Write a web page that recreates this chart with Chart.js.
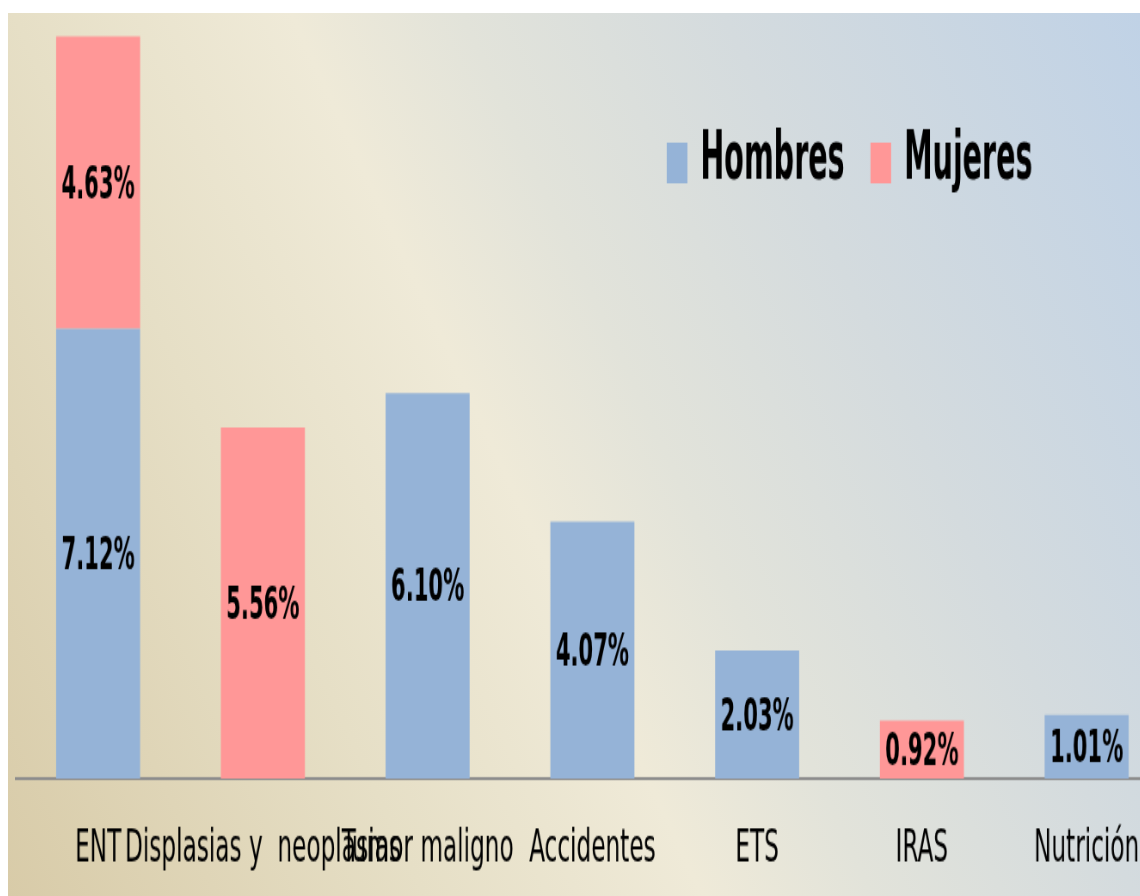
<!DOCTYPE html>
<html>
<head>
<meta charset="utf-8">
<script src="https://cdn.jsdelivr.net/npm/chart.js@4"></script>
<style>
  html, body { margin: 0; padding: 0; background: #fff; overflow: hidden; }
  #fondo {
    position: absolute; left: 8px; top: 13px; width: 1132px; height: 883px; overflow: hidden;
    background: linear-gradient(65deg, #d8cba8 0%, #e6dfc6 27%, #efead8 45%, #e2e3da 56%, #d4dbde 73%, #c0d2e6 100%);
  }
  #estirar { transform: scale(0.86, 1.507); transform-origin: 0 0; width: 1350px; height: 602px; }
</style>
</head>
<body>
<div id="fondo">
  <div id="estirar"><canvas id="grafico" width="1350" height="602"></canvas></div>
</div>
<script>
const categorias = ['ENT', 'Displasias y  neoplasias', 'Tumor maligno', 'Accidentes', 'ETS', 'IRAS', 'Nutrición'];
const hombres = [7.12, null, 6.10, 4.07, 2.03, null, 1.01];
const mujeres = [4.63, 5.56, null, null, null, 0.92, null];

const fuente = "'DejaVu Sans Condensed', 'Liberation Sans Narrow', sans-serif";

// etiquetas de porcentaje en el centro de cada barra
const etiquetas = {
  id: 'etiquetas',
  afterDatasetsDraw(chart) {
    const ctx = chart.ctx;
    ctx.save();
    ctx.font = 'bold 31px ' + fuente;
    ctx.fillStyle = '#000';
    ctx.textAlign = 'center';
    ctx.textBaseline = 'middle';
    chart.data.datasets.forEach((ds, i) => {
      chart.getDatasetMeta(i).data.forEach((barra, j) => {
        const v = ds.data[j];
        if (v === null || v === undefined) return;
        ctx.save();
        ctx.translate(barra.x, (barra.y + barra.base) / 2 + 2);
        ctx.scale(0.88, 1);
        ctx.fillText(v.toFixed(2) + '%', 0, 0);
        ctx.restore();
      });
    });
    ctx.restore();
  }
};

// leyenda dentro del area del grafico
const leyenda = {
  id: 'leyenda',
  afterDraw(chart) {
    const ctx = chart.ctx;
    const k = 0.84;
    ctx.save();
    ctx.font = 'bold 44px ' + fuente;
    ctx.textBaseline = 'middle';
    let x = 766;
    const y = 99;
    chart.data.datasets.forEach(ds => {
      ctx.fillStyle = ds.backgroundColor;
      ctx.fillRect(x, y - 13, 24, 27);
      ctx.fillStyle = '#000';
      ctx.save();
      ctx.translate(x + 39, y);
      ctx.scale(k, 1);
      ctx.fillText(ds.label, 0, 0);
      ctx.restore();
      x += 39 + ctx.measureText(ds.label).width * k + 30;
    });
    ctx.restore();
  }
};

new Chart(document.getElementById('grafico'), {
  type: 'bar',
  data: {
    labels: categorias,
    datasets: [
      { label: 'Hombres', data: hombres, backgroundColor: '#95b3d7', categoryPercentage: 1, barPercentage: 0.51 },
      { label: 'Mujeres', data: mujeres, backgroundColor: '#ff9797', categoryPercentage: 1, barPercentage: 0.51 }
    ]
  },
  options: {
    responsive: false,
    animation: false,
    devicePixelRatio: 1,
    layout: { padding: { left: 9, right: 0, top: 5, bottom: 0 } },
    plugins: { legend: { display: false }, tooltip: { enabled: false } },
    scales: {
      x: {
        stacked: true,
        grid: { display: false, drawTicks: false },
        border: { display: true, color: '#8c8c8c', width: 2 },
        ticks: {
          color: '#000', autoSkip: false, maxRotation: 0, minRotation: 0, padding: 29,
          font: { family: fuente, size: 30, lineHeight: 1.2 }
        }
      },
      y: {
        stacked: true,
        display: false,
        min: 0,
        max: 12
      }
    }
  },
  plugins: [etiquetas, leyenda]
});
</script>
</body>
</html>
